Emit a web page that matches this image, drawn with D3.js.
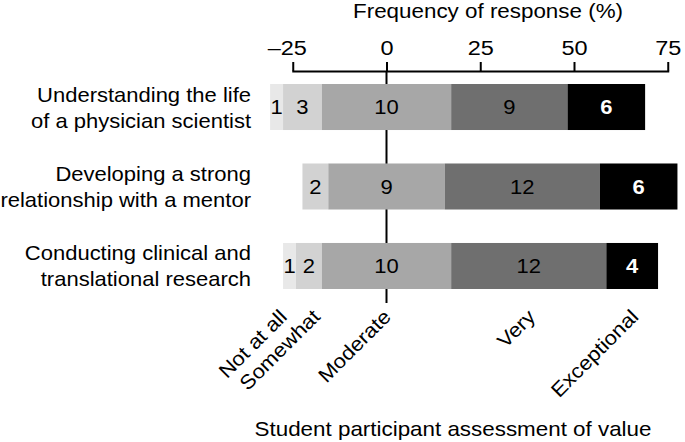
<!DOCTYPE html>
<html><head><meta charset="utf-8">
<script src="https://cdn.jsdelivr.net/npm/d3@7"></script>
<style>body{margin:0;background:#fff}svg{display:block}text{font-family:"Liberation Sans",Arial,sans-serif}</style>
</head><body><svg id="c" width="685" height="442"></svg>
<script>
// ---- data ----
const categories = [
  ["Understanding the life", "of a physician scientist"],
  ["Developing a strong", "relationship with a mentor"],
  ["Conducting clinical and", "translational research"]
];
const levels = ["Not at all", "Somewhat", "Moderate", "Very", "Exceptional"];
const notAtAll    = [1, 0, 1];
const somewhat    = [3, 2, 2];
const moderate    = [10, 9, 10];
const very        = [9, 12, 12];
const exceptional = [6, 6, 4];
const tickValues  = [-25, 0, 25, 50, 75];
const xTitle = "Frequency of response (%)";
const legendTitle = "Student participant assessment of value";

// ---- layout / style ----
const SX = 1.1; // horizontal text stretch of the original figure
const fills = ["#e8e8e8", "#d2d2d2", "#a7a7a7", "#6f6f6f", "#000000"];
const legendPos = [-26.2, -17.4, 1.5, 40.0, 67.5]; // label anchors in axis units
const svg = d3.select("#c");
svg.append("rect").attr("width", 685).attr("height", 442).attr("fill", "#fff");

const x = d3.scaleLinear().domain([-25, 75]).range([292.75, 667.75]);
const y = d3.scaleBand().domain(d3.range(categories.length)).range([84, 289]).paddingInner(0.421).paddingOuter(0);

const series = [notAtAll, somewhat, moderate, very, exceptional];
const rows = categories.map((c, i) => {
  const vals = series.map(s => s[i]);
  const total = d3.sum(vals);
  const pct = vals.map(v => v / total * 100);
  let start = -(pct[0] + pct[1] + pct[2] / 2);
  const segs = pct.map((p, k) => {
    const s = { k, v: vals[k], x0: start, x1: start + p };
    start += p;
    return s;
  });
  return { i, lines: c, segs };
});

// zero line (behind bars)
svg.append("line").attr("x1", x(0)).attr("x2", x(0)).attr("y1", 71).attr("y2", 303)
  .attr("stroke", "#000").attr("stroke-width", 2);

// axis on top
const ax = svg.append("g").attr("transform", "translate(0,71)")
  .call(d3.axisTop(x).tickValues(tickValues).tickSize(9).tickSizeOuter(0).tickPadding(7)
    .tickFormat(d => d < 0 ? "\u2013" + Math.abs(d) : String(d)));
ax.attr("font-family", null).attr("font-size", null);
ax.select(".domain").attr("stroke", "#000").attr("stroke-width", 2).attr("stroke-linecap", "square");
ax.selectAll(".tick line").attr("stroke", "#000").attr("stroke-width", 2);
ax.selectAll(".tick text").attr("fill", "#000").style("font-size", "21px")
  .attr("transform", d => `translate(${d < 0 ? -6 : 0},0) scale(1.12,1)`);

svg.append("text").attr("transform", `translate(488,18) scale(1.12,1)`)
  .attr("text-anchor", "middle").style("font-size", "20px").text(xTitle);

// bars
const g = svg.append("g");
rows.forEach(r => {
  const yy = y(r.i), h = y.bandwidth(), cy = yy + h / 2;
  r.segs.filter(s => s.v > 0).forEach(s => {
    g.append("rect").attr("x", x(s.x0)).attr("width", x(s.x1) - x(s.x0))
      .attr("y", yy).attr("height", h).attr("fill", fills[s.k]);
    g.append("text")
      .attr("transform", `translate(${(x(s.x0) + x(s.x1)) / 2},${cy + 7}) scale(${SX},1)`)
      .attr("text-anchor", "middle").style("font-size", "20px")
      .attr("fill", s.k === 4 ? "#fff" : "#000")
      .attr("font-weight", s.k === 4 ? "bold" : "normal")
      .text(s.v);
  });
  r.lines.forEach((ln, j) => {
    svg.append("text").attr("transform", `translate(251,${cy - 5.5 + j * 26}) scale(${SX},1)`)
      .attr("text-anchor", "end").style("font-size", "20px").text(ln);
  });
});

// rotated level labels
levels.forEach((lv, k) => {
  svg.append("text").attr("transform", `translate(${x(legendPos[k])},318) rotate(-45) scale(${SX},1)`)
    .attr("text-anchor", "end").style("font-size", "20px").text(lv);
});

svg.append("text").attr("transform", `translate(453,436) scale(1.12,1)`)
  .attr("text-anchor", "middle").style("font-size", "20px").text(legendTitle);
</script></body></html>
